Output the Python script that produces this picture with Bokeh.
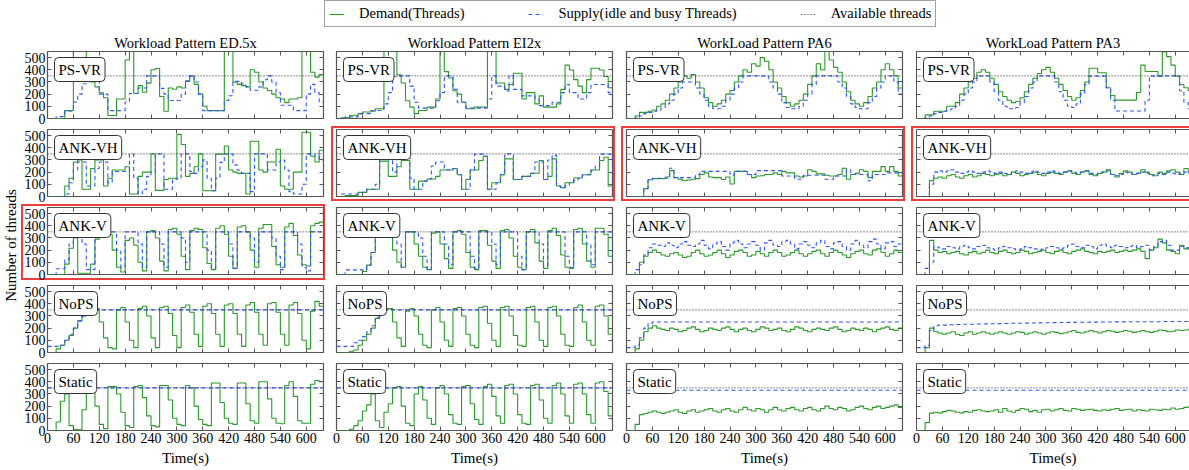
import math
from bokeh.plotting import figure
from bokeh.models import (Range1d, FixedTicker, LinearAxis, Label, Spacer,
                          Legend, LegendItem)
from bokeh.layouts import row, column
from bokeh.embed import file_html
from bokeh.resources import INLINE

# ---------------- data ----------------
T = list(range(0, 650, 10))          # sample times (s)
FULL_T = [0, 640]                     # for constant series

PATTERNS = ["Workload Pattern ED.5x", "Workload Pattern EI2x",
            "WorkLoad Pattern PA6", "WorkLoad Pattern PA3"]
POLICIES = ["PS-VR", "ANK-VH", "ANK-V", "NoPS", "Static"]
X_TICKS = [0, 60, 120, 180, 240, 300, 360, 420, 480, 540, 600]
Y_TICKS = [0, 100, 200, 300, 400, 500]
AVAILABLE = [350, 350]

# ----- ED.5x -----
D_ED_PSVR = [0, 0, 0, 0, 65, 65, 560, 560, 560, 320,
             300, 260, 210, 170, 25, 25, 160, 160, 480, 550,
             205, 270, 215, 290, 400, 410, 180, 60, 250, 240,
             260, 250, 310, 350, 280, 200, 100, 65, 65, 65,
             65, 560, 560, 300, 280, 270, 260, 400, 380, 300,
             250, 230, 200, 170, 160, 130, 160, 160, 170, 560,
             560, 380, 340, 360, 310]
S_ED_PSVR = [0, 0, 15, 15, 62, 62, 135, 200, 285, 320,
             350, 350, 200, 200, 65, 65, 65, 65, 135, 205,
             205, 250, 250, 350, 350, 350, 247, 200, 148, 148,
             148, 200, 305, 350, 300, 200, 65, 65, 65, 65,
             65, 148, 187, 305, 305, 284, 260, 232, 232, 260,
             318, 350, 300, 213, 109, 109, 109, 65, 65, 65,
             200, 280, 213, 135, 135]
D_ED_ANKVH = [0, 0, 0, 0, 86, 150, 283, 300, 60, 60,
              230, 300, 300, 86, 150, 217, 217, 217, 244, 20,
              20, 165, 200, 200, 350, 50, 50, 140, 150, 150,
              510, 427, 165, 190, 244, 350, 47, 47, 47, 348,
              348, 414, 217, 200, 190, 190, 20, 453, 453, 217,
              200, 283, 283, 388, 86, 60, 60, 200, 200, 527,
              527, 330, 283, 380, 380]
S_ED_ANKVH = [0, 0, 0, 0, 20, 113, 217, 283, 283, 86,
              86, 230, 283, 283, 113, 205, 205, 205, 205, 348,
              150, 20, 60, 165, 200, 350, 350, 60, 60, 140,
              150, 350, 350, 205, 190, 244, 300, 150, 47, 150,
              280, 348, 350, 260, 217, 190, 190, 40, 350, 350,
              350, 217, 217, 283, 300, 217, 40, 20, 20, 100,
              350, 350, 330, 300, 350]
D_ED_ANKV = [0, 0, 0, 0, 85, 215, 300, 10, 10, 10,
             85, 290, 350, 350, 330, 200, 60, 20, 280, 300,
             240, 100, 30, 350, 360, 300, 110, 30, 370, 380,
             330, 150, 40, 360, 380, 370, 220, 90, 40, 380,
             400, 330, 150, 50, 390, 400, 350, 200, 60, 380,
             410, 410, 230, 80, 60, 390, 420, 320, 160, 80,
             70, 400, 420, 430, 430]
S_ED_ANKV = [0, 0, 47, 47, 120, 250, 350, 350, 250, 40,
             40, 350, 350, 350, 350, 350, 200, 60, 350, 350,
             350, 250, 60, 350, 350, 350, 250, 60, 350, 350,
             350, 300, 100, 350, 350, 350, 350, 200, 50, 350,
             350, 350, 250, 50, 350, 350, 350, 300, 100, 350,
             350, 350, 300, 150, 40, 350, 350, 350, 250, 60,
             30, 350, 350, 350, 350]
D_ED_NOPS = [0, 0, 30, 60, 100, 140, 200, 260, 300, 340,
             360, 360, 250, 120, 40, 30, 350, 370, 250, 100,
             40, 360, 380, 300, 120, 40, 370, 380, 320, 140,
             40, 370, 390, 330, 150, 50, 380, 400, 320, 150,
             50, 390, 400, 320, 150, 50, 390, 410, 330, 150,
             60, 400, 410, 330, 150, 60, 390, 410, 320, 100,
             30, 340, 420, 380, 380]
S_ED_NOPS = [50, 50, 50, 60, 100, 150, 200, 260, 300, 340,
             350, 350, 350, 350, 350, 350, 350, 350, 350, 350,
             350, 350, 350, 350, 350, 350, 350, 350, 350, 350,
             350, 350, 350, 350, 350, 350, 350, 350, 350, 350,
             350, 350, 350, 350, 350, 350, 350, 350, 350, 350,
             350, 350, 350, 350, 350, 350, 350, 350, 350, 350,
             350, 350, 350, 350, 350]
D_ED_STATIC = [0, 0, 70, 240, 300, 40, 10, 5, 170, 320,
               330, 200, 50, 15, 360, 360, 300, 150, 40, 25,
               360, 370, 270, 120, 40, 30, 370, 370, 250, 100,
               50, 40, 370, 350, 200, 90, 50, 40, 390, 390,
               230, 100, 60, 50, 390, 390, 220, 80, 60, 400,
               400, 260, 100, 60, 55, 370, 400, 280, 80, 60,
               60, 380, 410, 400, 180]
S_ED_STATIC = [350, 350]

# ----- EI2x -----
D_EI_PSVR = [0, 5, 5, 27, 27, 40, 53, 53, 60, 80,
             80, 560, 560, 560, 359, 292, 146, 93, 40, 66,
             66, 93, 93, 160, 560, 385, 332, 226, 200, 133,
             80, 80, 93, 93, 93, 560, 560, 292, 292, 239,
             279, 372, 372, 160, 212, 212, 120, 186, 93, 93,
             93, 120, 239, 438, 398, 319, 266, 212, 319, 412,
             412, 398, 345, 252, 252]
S_EI_PSVR = [0, 0, 13, 13, 13, 40, 40, 40, 66, 66,
             66, 120, 212, 345, 350, 350, 350, 266, 133, 85,
             85, 85, 85, 146, 212, 350, 350, 239, 133, 133,
             85, 85, 85, 85, 85, 160, 350, 266, 266, 226,
             350, 239, 239, 186, 186, 186, 160, 106, 106, 106,
             133, 133, 212, 279, 212, 212, 160, 160, 212, 279,
             279, 279, 279, 212, 212]
D_EI_ANKVH = [0, 0, 8, 8, 8, 34, 34, 60, 60, 60,
              290, 290, 165, 165, 244, 296, 296, 60, 60, 126,
              126, 144, 144, 165, 217, 217, 217, 230, 178, 60,
              139, 217, 217, 296, 330, 60, 113, 113, 178, 309,
              309, 139, 139, 165, 165, 191, 191, 296, 139, 165,
              309, 86, 73, 113, 113, 152, 152, 178, 178, 217,
              217, 296, 322, 86, 86]
S_EI_ANKVH = [0, 20, 20, 20, 20, 20, 34, 60, 60, 100,
              309, 350, 300, 200, 350, 350, 350, 150, 60, 60,
              126, 144, 250, 283, 283, 220, 217, 230, 178, 60,
              60, 217, 348, 348, 330, 60, 60, 113, 178, 350,
              350, 139, 139, 165, 165, 191, 283, 283, 139, 300,
              340, 86, 73, 90, 113, 130, 152, 178, 178, 217,
              250, 348, 348, 348, 86]
D_EI_ANKV = [0, 0, 0, 0, 0, 0, 25, 77, 180, 333,
             350, 350, 320, 200, 100, 60, 350, 350, 250, 150,
             60, 40, 340, 350, 250, 130, 50, 350, 360, 330,
             180, 60, 40, 360, 360, 240, 110, 50, 360, 370,
             300, 150, 60, 40, 350, 370, 260, 110, 50, 360,
             380, 320, 160, 60, 50, 370, 380, 250, 110, 60,
             380, 380, 330, 150, 150]
S_EI_ANKV = [0, 0, 38, 38, 38, 38, 38, 77, 180, 333,
             350, 350, 350, 350, 250, 60, 350, 350, 350, 300,
             150, 40, 350, 350, 350, 250, 80, 350, 350, 350,
             350, 150, 50, 350, 350, 350, 250, 80, 350, 350,
             350, 350, 150, 40, 350, 350, 350, 250, 70, 350,
             350, 350, 350, 150, 60, 350, 350, 350, 250, 80,
             350, 350, 350, 350, 150]
D_EI_NOPS = [0, 0, 0, 10, 20, 60, 100, 150, 200, 280,
             340, 360, 360, 250, 120, 50, 340, 360, 300, 150,
             60, 40, 350, 370, 250, 100, 50, 360, 370, 300,
             150, 60, 40, 370, 380, 240, 100, 50, 370, 380,
             300, 140, 60, 50, 370, 380, 250, 100, 50, 370,
             380, 300, 150, 60, 50, 370, 390, 250, 100, 60,
             380, 390, 300, 150, 150]
S_EI_NOPS = [50, 50, 50, 50, 80, 100, 130, 170, 220, 290,
             340, 350, 350, 350, 350, 350, 350, 350, 350, 350,
             350, 350, 350, 350, 350, 350, 350, 350, 350, 350,
             350, 350, 350, 350, 350, 350, 350, 350, 350, 350,
             350, 350, 350, 350, 350, 350, 350, 350, 350, 350,
             350, 350, 350, 350, 350, 350, 350, 350, 350, 350,
             350, 350, 350, 350, 350]
D_EI_STATIC = [0, 0, 0, 10, 40, 80, 160, 210, 300, 80,
               25, 150, 220, 350, 360, 200, 60, 40, 300, 360,
               250, 100, 50, 350, 370, 300, 130, 60, 50, 360,
               370, 220, 90, 50, 360, 380, 280, 120, 60, 370,
               380, 300, 130, 60, 50, 370, 380, 250, 100, 60,
               370, 390, 300, 120, 60, 380, 390, 300, 130, 60,
               390, 400, 320, 120, 120]
S_EI_STATIC = [350, 350]

# ----- PA6 -----
D_PA6_PSVR = [0, 0, 20, 50, 50, 60, 70, 100, 120, 150,
              200, 250, 300, 350, 330, 360, 300, 250, 170, 130,
              100, 120, 150, 200, 230, 300, 350, 400, 380, 450,
              430, 500, 470, 400, 300, 250, 180, 130, 100, 120,
              150, 200, 280, 350, 450, 400, 550, 480, 420, 380,
              300, 220, 150, 120, 100, 130, 180, 250, 300, 400,
              450, 400, 350, 250, 250]
S_PA6_PSVR = [0, 0, 10, 20, 40, 50, 60, 70, 90, 120,
              150, 200, 250, 300, 300, 300, 250, 200, 150, 100,
              80, 80, 100, 150, 200, 250, 300, 350, 350, 350,
              350, 350, 350, 300, 250, 200, 130, 90, 80, 80,
              100, 150, 200, 280, 350, 350, 350, 350, 350, 300,
              250, 180, 120, 90, 80, 80, 130, 180, 250, 300,
              350, 350, 300, 200, 200]
D_PA6_ANKVH = [0, 0, 0, 0, 65, 137, 147, 147, 147, 160,
               212, 155, 142, 129, 135, 142, 147, 180, 194, 160,
               155, 155, 140, 160, 103, 206, 206, 206, 180, 155,
               168, 170, 180, 180, 194, 180, 206, 194, 194, 168,
               160, 168, 219, 206, 186, 186, 175, 168, 168, 180,
               232, 142, 180, 190, 219, 206, 155, 206, 206, 245,
               206, 245, 206, 168, 168]
S_PA6_ANKVH = [0, 0, 0, 0, 65, 137, 150, 150, 150, 150,
               232, 155, 155, 155, 155, 155, 180, 206, 206, 206,
               206, 206, 206, 206, 175, 206, 206, 206, 180, 180,
               212, 212, 212, 212, 212, 212, 168, 168, 168, 142,
               142, 175, 175, 175, 175, 175, 142, 142, 168, 168,
               168, 219, 180, 180, 180, 180, 129, 180, 180, 180,
               194, 194, 194, 194, 194]
D_PA6_ANKV = [0, 0, 0, 100, 150, 180, 200, 180, 160, 150,
              170, 180, 160, 140, 150, 180, 200, 170, 150, 160,
              180, 200, 170, 140, 160, 190, 200, 180, 150, 160,
              190, 170, 150, 180, 200, 180, 150, 160, 180, 200,
              170, 150, 170, 190, 200, 170, 150, 180, 200, 180,
              160, 140, 170, 190, 200, 170, 160, 200, 210, 180,
              150, 170, 200, 180, 160]
S_PA6_ANKV = [0, 0, 40, 80, 160, 220, 250, 240, 230, 260,
              240, 220, 250, 270, 240, 230, 250, 280, 240, 210,
              250, 270, 230, 200, 260, 280, 250, 220, 250, 270,
              240, 200, 260, 280, 240, 230, 270, 280, 250, 210,
              250, 270, 240, 220, 260, 280, 230, 210, 260, 270,
              230, 200, 250, 280, 240, 220, 270, 290, 250, 210,
              260, 270, 230, 250, 250]
D_PA6_NOPS = [0, 0, 30, 100, 170, 200, 220, 200, 190, 180,
              200, 190, 170, 180, 200, 210, 190, 170, 180, 200,
              190, 180, 200, 210, 190, 170, 190, 200, 180, 170,
              190, 210, 200, 180, 190, 200, 180, 170, 190, 210,
              200, 180, 170, 190, 200, 190, 180, 200, 210, 190,
              170, 180, 200, 190, 180, 200, 190, 170, 190, 200,
              210, 190, 180, 200, 180]
S_PA6_NOPS = [40, 40, 60, 120, 200, 240, 250, 250, 250, 250,
              250, 250, 250, 250, 250, 250, 250, 250, 250, 250,
              250, 250, 250, 250, 250, 250, 250, 250, 250, 250,
              250, 250, 250, 250, 250, 250, 250, 250, 250, 250,
              250, 250, 250, 250, 250, 250, 250, 250, 250, 250,
              250, 250, 250, 250, 250, 250, 250, 250, 250, 250,
              250, 250, 250, 250, 250]
D_PA6_STATIC = [0, 0, 50, 130, 140, 150, 160, 150, 140, 150,
                160, 170, 150, 140, 160, 170, 150, 160, 170, 180,
                160, 150, 170, 180, 160, 150, 170, 190, 170, 160,
                180, 170, 150, 170, 190, 170, 160, 180, 190, 170,
                160, 180, 190, 170, 160, 180, 200, 180, 170, 190,
                180, 160, 170, 190, 200, 180, 170, 190, 200, 180,
                190, 200, 210, 190, 190]
S_PA6_STATIC = [330, 330]

# ----- PA3 -----
D_PA3_PSVR = [0, 0, 30, 30, 60, 60, 60, 100, 100, 130,
              200, 250, 300, 330, 380, 400, 380, 330, 280, 220,
              180, 150, 130, 140, 170, 220, 280, 330, 370, 400,
              420, 380, 330, 280, 230, 180, 150, 170, 230, 300,
              412, 412, 375, 375, 252, 189, 151, 151, 151, 151,
              151, 213, 438, 386, 386, 386, 348, 547, 508, 438,
              348, 279, 252, 230, 230]
S_PA3_PSVR = [0, 0, 10, 20, 40, 50, 60, 70, 80, 100,
              150, 200, 250, 300, 350, 350, 350, 300, 220, 150,
              100, 80, 80, 90, 130, 180, 250, 300, 350, 350,
              350, 350, 300, 220, 150, 100, 90, 120, 200, 280,
              348, 348, 348, 348, 252, 150, 61, 61, 61, 61,
              61, 61, 61, 150, 348, 348, 350, 350, 350, 350,
              350, 228, 134, 80, 80]
D_PA3_ANKVH = [0, 0, 0, 130, 150, 160, 150, 170, 180, 160,
               150, 170, 180, 160, 170, 190, 180, 170, 180, 190,
               170, 180, 200, 190, 170, 180, 190, 200, 180, 170,
               190, 200, 190, 180, 200, 210, 190, 180, 200, 210,
               180, 170, 190, 200, 220, 180, 160, 190, 210, 200,
               180, 190, 220, 200, 180, 170, 200, 190, 210, 220,
               200, 180, 230, 200, 190]
S_PA3_ANKVH = [0, 0, 0, 100, 200, 210, 200, 210, 220, 200,
               190, 200, 210, 200, 190, 200, 210, 200, 190, 200,
               190, 180, 200, 210, 200, 190, 200, 210, 200, 190,
               200, 210, 200, 190, 200, 210, 200, 190, 200, 210,
               190, 180, 190, 200, 210, 180, 170, 180, 200, 190,
               180, 190, 200, 190, 170, 180, 190, 180, 200, 190,
               180, 190, 200, 190, 190]
D_PA3_ANKV = [0, 0, 0, 280, 200, 180, 190, 170, 180, 190,
              170, 160, 180, 190, 170, 180, 200, 180, 170, 190,
              200, 180, 170, 180, 200, 190, 170, 180, 190, 200,
              180, 170, 190, 200, 180, 170, 190, 200, 210, 190,
              180, 170, 190, 180, 190, 200, 180, 190, 200, 190,
              200, 210, 190, 130, 200, 220, 290, 260, 200, 190,
              170, 240, 210, 220, 220]
S_PA3_ANKV = [0, 0, 50, 100, 230, 220, 210, 230, 220, 210,
              230, 240, 220, 210, 230, 240, 220, 210, 200, 220,
              230, 220, 210, 200, 210, 230, 220, 210, 200, 210,
              220, 230, 220, 210, 220, 240, 250, 230, 220, 240,
              230, 210, 240, 250, 230, 220, 240, 230, 220, 230,
              240, 220, 230, 240, 200, 230, 270, 280, 240, 200,
              200, 230, 220, 210, 210]
D_PA3_NOPS = [0, 0, 40, 200, 170, 160, 150, 160, 170, 150,
              140, 160, 170, 150, 160, 170, 160, 150, 160, 170,
              160, 150, 160, 170, 165, 150, 160, 170, 160, 150,
              160, 170, 165, 155, 160, 170, 180, 165, 160, 170,
              180, 170, 160, 170, 180, 175, 165, 170, 180, 175,
              165, 170, 180, 170, 165, 175, 185, 180, 170, 175,
              185, 180, 185, 190, 190]
S_PA3_NOPS = [40, 40, 60, 180, 220, 225, 225, 228, 228, 230,
              230, 232, 232, 232, 234, 234, 235, 236, 236, 237,
              238, 238, 240, 240, 240, 241, 242, 242, 243, 244,
              244, 245, 245, 246, 246, 247, 247, 248, 248, 248,
              249, 249, 250, 250, 250, 250, 251, 251, 251, 252,
              252, 252, 252, 253, 253, 253, 253, 254, 254, 254,
              254, 255, 255, 255, 255]
D_PA3_STATIC = [0, 0, 65, 143, 150, 145, 155, 165, 160, 150,
                145, 155, 150, 165, 170, 160, 155, 160, 170, 150,
                180, 160, 150, 165, 180, 175, 155, 165, 150, 170,
                175, 160, 170, 180, 165, 160, 180, 175, 165, 170,
                175, 165, 160, 170, 165, 175, 180, 165, 170, 175,
                160, 170, 165, 160, 175, 170, 165, 175, 170, 185,
                175, 180, 190, 195, 190]
S_PA3_STATIC = [330, 330]

DEMAND = [
    [D_ED_PSVR, D_EI_PSVR, D_PA6_PSVR, D_PA3_PSVR],
    [D_ED_ANKVH, D_EI_ANKVH, D_PA6_ANKVH, D_PA3_ANKVH],
    [D_ED_ANKV, D_EI_ANKV, D_PA6_ANKV, D_PA3_ANKV],
    [D_ED_NOPS, D_EI_NOPS, D_PA6_NOPS, D_PA3_NOPS],
    [D_ED_STATIC, D_EI_STATIC, D_PA6_STATIC, D_PA3_STATIC],
]
SUPPLY = [
    [S_ED_PSVR, S_EI_PSVR, S_PA6_PSVR, S_PA3_PSVR],
    [S_ED_ANKVH, S_EI_ANKVH, S_PA6_ANKVH, S_PA3_ANKVH],
    [S_ED_ANKV, S_EI_ANKV, S_PA6_ANKV, S_PA3_ANKV],
    [S_ED_NOPS, S_EI_NOPS, S_PA6_NOPS, S_PA3_NOPS],
    [S_ED_STATIC, S_EI_STATIC, S_PA6_STATIC, S_PA3_STATIC],
]
HIGHLIGHT = [(1, 1), (1, 2), (1, 3), (2, 0)]

# ---------------- style / layout ----------------
FONT = "Liberation Serif"
FRAME_C = "#555555"
GREEN = "#2a9a2a"
BLUE = "#3355ff"
DOT_C = "#222222"
RED = "#ee3d3d"

FW = [276, 276, 276, 273]
FH = 67
LEFTS = [26, 5, 5, 5]
RIGHTS = [2, 3, 3, 0]
TOPS = [23, 3, 3, 3, 3]
BOTTOMS = [8, 8, 8, 8, 39]
GAP = 6
YL_W = 18
YL_GAP = 3
LEG_H = 28
X_END = 640.0


def xs_for(ys):
    if len(ys) == 2:
        return FULL_T, ys
    n = min(len(T), len(ys))
    return T[:n], ys[:n]


def ring(inset_bottom, with_right):
    """CSS inset shadows drawing a red frame around the whole panel."""
    whites = []
    reds = [f"inset 2px 0 0 0 {RED}", f"inset 0 2px 0 0 {RED}"]
    if with_right:
        reds.append(f"inset -2px 0 0 0 {RED}")
    if inset_bottom > 0:
        whites.append(f"inset 0 -{inset_bottom}px 0 0 #ffffff")
    reds.append(f"inset 0 -{inset_bottom + 2}px 0 0 {RED}")
    return ", ".join(whites + reds)


def add_axis(p, side, xaxis, show_labels, line_color):
    ax = LinearAxis(ticker=FixedTicker(ticks=X_TICKS if xaxis else Y_TICKS))
    ax.major_tick_in = 4
    ax.major_tick_out = 0
    ax.minor_tick_in = 0
    ax.minor_tick_out = 0
    ax.major_tick_line_color = FRAME_C
    ax.axis_line_color = line_color
    ax.major_label_text_font = FONT
    if show_labels:
        ax.major_label_text_font_size = "14px"
        ax.major_label_text_color = "#000000"
        ax.major_label_standoff = 2
    else:
        ax.major_label_text_font_size = "0px"
        ax.major_label_text_color = None
        ax.major_label_standoff = 0
    p.add_layout(ax, side)
    return ax


def make_panel(r, c):
    fw = FW[c]
    last = (c == 3)
    hl = (r, c) in HIGHLIGHT
    kw = {}
    if hl:
        kw["styles"] = {"box-shadow": ring(3 if c > 0 else 2, not last)}
    p = figure(frame_width=fw, frame_height=FH,
               x_range=Range1d(0, X_END * fw / 276.0), y_range=Range1d(0, 550),
               x_axis_type=None, y_axis_type=None,
               min_border_left=LEFTS[c], min_border_right=RIGHTS[c],
               min_border_top=TOPS[r], min_border_bottom=BOTTOMS[r],
               toolbar_location=None, output_backend="svg", **kw)
    p.background_fill_color = "white"
    p.border_fill_color = None if hl else "white"
    line_c = FRAME_C if last else None
    if last:
        p.outline_line_color = None
    else:
        p.outline_line_color = FRAME_C
        p.outline_line_width = 1.2

    bx = add_axis(p, "below", True, r == 4, line_c)
    if r == 4:
        bx.axis_label = "Time(s)"
        bx.axis_label_text_font = FONT
        bx.axis_label_text_font_size = "15px"
        bx.axis_label_text_font_style = "normal"
        bx.axis_label_text_color = "#000000"
        bx.axis_label_standoff = 4
    add_axis(p, "above", True, False, line_c)
    add_axis(p, "left", False, c == 0, line_c)
    if not last:
        add_axis(p, "right", False, False, None)

    if r == 0:
        p.title.text = PATTERNS[c]
        p.title.align = "center"
        p.title.text_font = FONT
        p.title.text_font_size = "14.5px"
        p.title.text_font_style = "normal"
        p.title.text_color = "#000000"
        p.title.standoff = 1

    dx, dy = xs_for(DEMAND[r][c])
    sx, sy = xs_for(SUPPLY[r][c])
    p.step(dx, dy, mode="after", line_color=GREEN, line_width=1.1)
    p.step(sx, sy, mode="after", line_color=BLUE, line_width=1.1, line_dash="4 3")
    p.line(FULL_T, AVAILABLE, line_color=DOT_C, line_width=1, line_dash="1 2")

    p.add_layout(Label(x=7, y=FH - 6, x_units="screen", y_units="screen",
                       text=POLICIES[r], anchor="top_left",
                       text_font=FONT, text_font_size="15px", text_color="#000000",
                       background_fill_color="white", border_line_color="#333333",
                       border_line_width=1, border_radius=4, padding=4))
    return p


rows = []
for r in range(5):
    h = TOPS[r] + FH + BOTTOMS[r]
    kids = []
    for c in range(4):
        if c > 0:
            kids.append(Spacer(width=GAP, height=h))
        kids.append(make_panel(r, c))
    rows.append(row(*kids))
grid = column(*rows)
GRID_H = sum(TOPS) + sum(BOTTOMS) + 5 * FH

# y-axis label column
yl = figure(frame_width=YL_W, frame_height=GRID_H, x_range=Range1d(0, 1), y_range=Range1d(0, 1),
            x_axis_type=None, y_axis_type=None, min_border=0, toolbar_location=None,
            output_backend="svg", outline_line_color=None)
yl.add_layout(Label(x=10, y=GRID_H - 217, x_units="screen", y_units="screen",
                    text="Number of threads", angle=math.pi / 2,
                    text_align="center", text_baseline="middle",
                    text_font=FONT, text_font_size="15px", text_color="#000000"))

# legend strip
TOTAL_W = YL_W + YL_GAP + sum(LEFTS) + sum(FW) + sum(RIGHTS) + 3 * GAP
lg = figure(frame_width=TOTAL_W, frame_height=LEG_H, x_range=Range1d(0, 1), y_range=Range1d(0, 1),
            x_axis_type=None, y_axis_type=None, min_border=0, toolbar_location=None,
            output_backend="svg", outline_line_color=None)
r1 = lg.line([-2, -1], [-2, -2], line_color=GREEN, line_width=1.1)
r2 = lg.line([-2, -1], [-2, -2], line_color=BLUE, line_width=1.1, line_dash="4 3")
r3 = lg.line([-2, -1], [-2, -2], line_color=DOT_C, line_width=1, line_dash="1 2")
legend = Legend(items=[LegendItem(label="Demand(Threads)", renderers=[r1]),
                       LegendItem(label="Supply(idle and busy Threads)", renderers=[r2]),
                       LegendItem(label="Available threads", renderers=[r3])],
                orientation="horizontal", location=(324, 1), margin=0,
                padding=4, spacing=64, glyph_width=15, glyph_height=14,
                label_standoff=15, label_text_font=FONT, label_text_font_size="14.5px",
                label_text_color="#000000",
                border_line_color="#444444", border_line_width=1,
                background_fill_color="white", background_fill_alpha=1.0)
lg.add_layout(legend)

layout = column(lg, row(yl, Spacer(width=YL_GAP, height=GRID_H), grid))

with open("out.html", "w") as f:
    f.write(file_html(layout, INLINE))
